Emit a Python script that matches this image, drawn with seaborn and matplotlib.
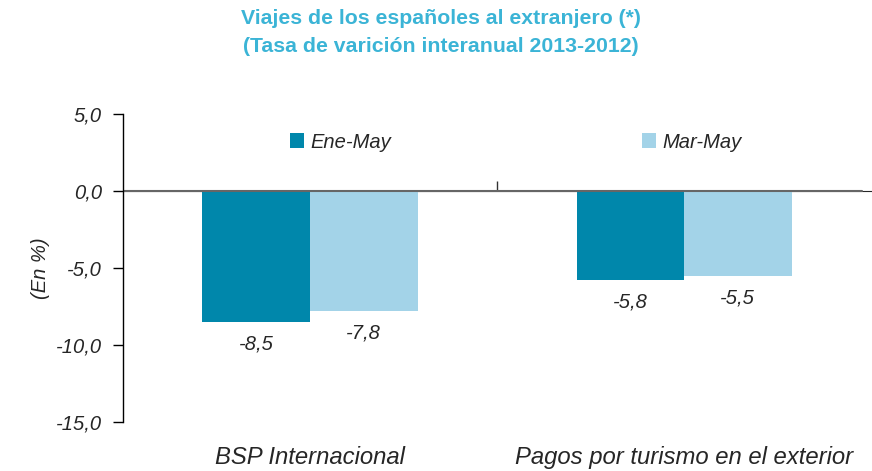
import matplotlib
matplotlib.use("Agg")
import matplotlib.pyplot as plt
import matplotlib.ticker as mticker
import pandas as pd
import seaborn as sns

# datos
categorias = ["BSP Internacional", "Pagos por turismo en el exterior"]
series = ["Ene-May", "Mar-May"]
ene_may = [-8.5, -5.8]
mar_may = [-7.8, -5.5]
yticks = [-15, -10, -5, 0, 5]

colores = ["#0087AB", "#A3D3E8"]
color_titulo = "#3BB4D6"

df = pd.DataFrame({
    "categoria": categorias * 2,
    "serie": [series[0]] * 2 + [series[1]] * 2,
    "valor": ene_may + mar_may,
})

sns.set_style("white")
plt.rcParams["font.family"] = ["Liberation Sans", "DejaVu Sans"]

fig = plt.figure(figsize=(8.72, 4.71), dpi=100)
ax = fig.add_axes([0.141, 0.104, 0.858, 0.654])

sns.barplot(data=df, x="categoria", y="valor", hue="serie", palette=colores,
            width=0.575, saturation=1, linewidth=0, ax=ax, legend=True)

ax.set_xlim(-0.5, 1.5)
ax.set_ylim(-15, 5)
ax.set_yticks(yticks)
ax.yaxis.set_major_formatter(mticker.FuncFormatter(lambda v, p: f"{v:.1f}".replace(".", ",")))

for lab in ax.get_yticklabels():
    lab.set_fontstyle("italic")
    lab.set_fontsize(14.5)
ax.tick_params(axis="y", direction="out", length=7, width=1, color="black", pad=8, left=True)
ax.tick_params(axis="x", length=0, pad=17)
for lab in ax.get_xticklabels():
    lab.set_fontstyle("italic")
    lab.set_fontsize(17.2)

for s in ["top", "right", "bottom"]:
    ax.spines[s].set_visible(False)
ax.spines["left"].set_color("black")
ax.spines["left"].set_linewidth(1)

# eje x en el cero con marca entre categorias
ax.axhline(0, xmin=0, xmax=0.988, color="#666666", linewidth=1.5)
sec = ax.secondary_xaxis(0.75)
sec.set_xticks([0.5])
sec.set_xticklabels([])
sec.tick_params(axis="x", direction="out", length=7, width=1, color="#333333")
sec.spines["bottom"].set_visible(False)

ax.set_xlabel("")
ax.set_ylabel("(En %)", fontsize=14.5, fontstyle="italic", labelpad=4)

for cont in ax.containers:
    etiquetas = [f"{b.get_height():.1f}".replace(".", ",") for b in cont]
    ax.bar_label(cont, labels=etiquetas, padding=9, fontsize=14.5, fontstyle="italic")

ax.legend(loc="center", bbox_to_anchor=(0.525, 0.909), ncol=2, frameon=False,
          prop={"size": 14.5, "style": "italic"}, handlelength=0.7, handleheight=0.7,
          handletextpad=0.3, columnspacing=12.5)

fig.suptitle("Viajes de los españoles al extranjero (*)\n(Tasa de varición interanual 2013-2012)",
             x=0.506, y=0.98, va="top", fontsize=15.3, fontweight="bold",
             color=color_titulo, linespacing=1.55)

fig.savefig("out.png", dpi=100)
